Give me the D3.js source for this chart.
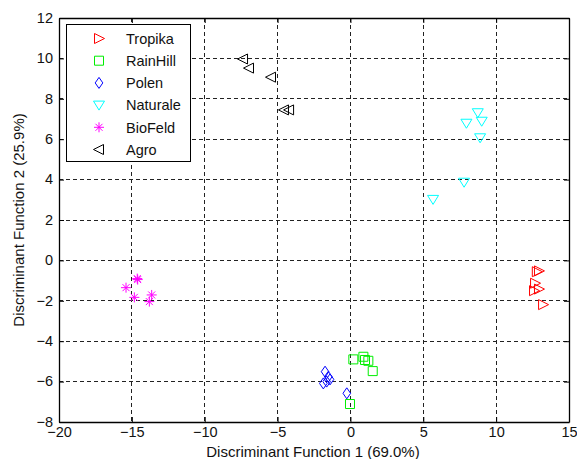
<!DOCTYPE html>
<html><head><meta charset="utf-8">
<script src="https://cdn.jsdelivr.net/npm/d3@7"></script>
<style>body{margin:0;background:#fff}svg{display:block}text{font-family:"Liberation Sans",Arial,sans-serif}</style>
</head><body>
<script>
const groups = ["Tropika","RainHill","Polen","Naturale","BioFeld","Agro"];
const colors = ["#ff0000","#00ee00","#0000ff","#00ffff","#ff00ff","#000000"];
const markers = ["triRight","square","diamond","triDown","star","triLeft"];
const tropikaX = [12.79, 12.94, 12.67, 12.6, 12.94, 13.22];
const tropikaY = [-0.56, -0.52, -1.13, -1.5, -1.42, -2.19];
const rainhillX = [0.2, 0.89, 1.0, 1.23, 1.53, -0.03];
const rainhillY = [-4.9, -4.77, -4.93, -4.97, -5.48, -7.11];
const polenX = [-1.74, -1.52, -1.63, -1.86, -1.4, -0.25];
const polenY = [-5.51, -5.76, -6.0, -6.09, -5.89, -6.58];
const naturaleX = [8.74, 9.01, 7.96, 8.9, 7.8, 5.67];
const naturaleY = [7.31, 6.89, 6.79, 6.07, 3.87, 3.02];
const biofeldX = [-14.63, -14.6, -15.4, -14.83, -13.64, -13.8];
const biofeldY = [-0.9, -0.95, -1.35, -1.83, -1.71, -2.04];
const agroX = [-7.37, -6.96, -5.45, -4.56, -4.21];
const agroY = [9.97, 9.52, 9.07, 7.45, 7.45];
const xTicks = [-20,-15,-10,-5,0,5,10,15];
const yTicks = [-8,-6,-4,-2,0,2,4,6,8,10,12];
const xLabel = "Discriminant Function 1 (69.0%)";
const yLabel = "Discriminant Function 2 (25.9%)";

const seriesX = [tropikaX, rainhillX, polenX, naturaleX, biofeldX, agroX];
const seriesY = [tropikaY, rainhillY, polenY, naturaleY, biofeldY, agroY];

const W = 577, H = 459;
const L = 59, R = 569, T = 18, B = 422;
const FONT = '"Liberation Sans",Arial,sans-serif';
const svg = d3.select("body").append("svg").attr("width", W).attr("height", H);
const x = d3.scaleLinear().domain([-20, 15]).range([L, R]);
const y = d3.scaleLinear().domain([-8, 12]).range([B, T]);

function markerPath(type) {
  const p = d3.path();
  if (type === "triRight") { p.moveTo(-4.5,-5); p.lineTo(-4.5,5); p.lineTo(5.5,0); p.closePath(); }
  else if (type === "triLeft") { p.moveTo(4.5,-5); p.lineTo(4.5,5); p.lineTo(-5.5,0); p.closePath(); }
  else if (type === "triDown") { p.moveTo(-5.5,-4); p.lineTo(5.5,-4); p.lineTo(0,5); p.closePath(); }
  else if (type === "square") { p.rect(-4.5,-4.5,9,9); }
  else if (type === "diamond") { p.moveTo(0,-5.5); p.lineTo(3.8,0); p.lineTo(0,5.5); p.lineTo(-3.8,0); p.closePath(); }
  else if (type === "star") {
    p.moveTo(-5,0); p.lineTo(5,0); p.moveTo(0,-5); p.lineTo(0,5);
    p.moveTo(-3.5,-3.5); p.lineTo(3.5,3.5); p.moveTo(-3.5,3.5); p.lineTo(3.5,-3.5);
  }
  return p.toString();
}

// grid
const grid = svg.append("g");
xTicks.slice(1, -1).forEach(t => grid.append("line").attr("x1", x(t)).attr("x2", x(t)).attr("y1", T).attr("y2", B));
yTicks.slice(1, -1).forEach(t => grid.append("line").attr("x1", L).attr("x2", R).attr("y1", y(t)).attr("y2", y(t)));
grid.selectAll("line").attr("stroke", "#222").attr("stroke-width", 1).attr("stroke-dasharray", "4,3").attr("shape-rendering", "crispEdges");

// axes
const axB = svg.append("g").attr("transform", `translate(0,${B})`)
  .call(d3.axisBottom(x).tickValues(xTicks).tickSizeInner(-5).tickSizeOuter(0).tickPadding(7));
const axT = svg.append("g").attr("transform", `translate(0,${T})`)
  .call(d3.axisTop(x).tickValues(xTicks).tickSizeInner(-5).tickSizeOuter(0).tickFormat(""));
const axL = svg.append("g").attr("transform", `translate(${L},0)`)
  .call(d3.axisLeft(y).tickValues(yTicks).tickSizeInner(-5).tickSizeOuter(0).tickPadding(6));
const axR = svg.append("g").attr("transform", `translate(${R},0)`)
  .call(d3.axisRight(y).tickValues(yTicks).tickSizeInner(-5).tickSizeOuter(0).tickFormat(""));
[axB, axT, axL, axR].forEach(a => {
  a.select(".domain").attr("stroke", "#000").attr("stroke-width", 1.3);
  a.selectAll(".tick line").attr("stroke", "#000");
  a.selectAll("text").attr("font-size", 14.5).attr("fill", "#111").attr("font-family", FONT);
});
axB.selectAll("text").attr("dy", "0.55em");
axL.selectAll("text").attr("dy", "0.3em");

// axis labels
svg.append("text").attr("x", 313).attr("y", 457).attr("text-anchor", "middle")
  .attr("font-size", 15).attr("fill", "#111").text(xLabel);
svg.append("text").attr("transform", `translate(24,220) rotate(-90)`).attr("text-anchor", "middle")
  .attr("font-size", 15).attr("fill", "#111").text(yLabel);

// points
groups.forEach((g, i) => {
  const pts = seriesX[i].map((v, j) => [v, seriesY[i][j]]);
  svg.append("g").selectAll("path").data(pts).join("path")
    .attr("d", markerPath(markers[i]))
    .attr("transform", d => `translate(${x(d[0])},${y(d[1])})`)
    .attr("fill", "none").attr("stroke", colors[i]).attr("stroke-width", 1);
});

// legend
const lg = svg.append("g");
lg.append("rect").attr("x", 66.5).attr("y", 24.5).attr("width", 124).attr("height", 137)
  .attr("fill", "#fff").attr("stroke", "#000").attr("stroke-width", 1);
groups.forEach((g, i) => {
  const cy = 38.5 + i * 22.2;
  lg.append("path").attr("d", markerPath(markers[i])).attr("transform", `translate(99,${cy})`)
    .attr("fill", "none").attr("stroke", colors[i]).attr("stroke-width", 1);
  lg.append("text").attr("x", 126).attr("y", cy).attr("dy", "0.36em").attr("font-size", 14.5)
    .attr("fill", "#111").text(g);
});
</script>
</body></html>
